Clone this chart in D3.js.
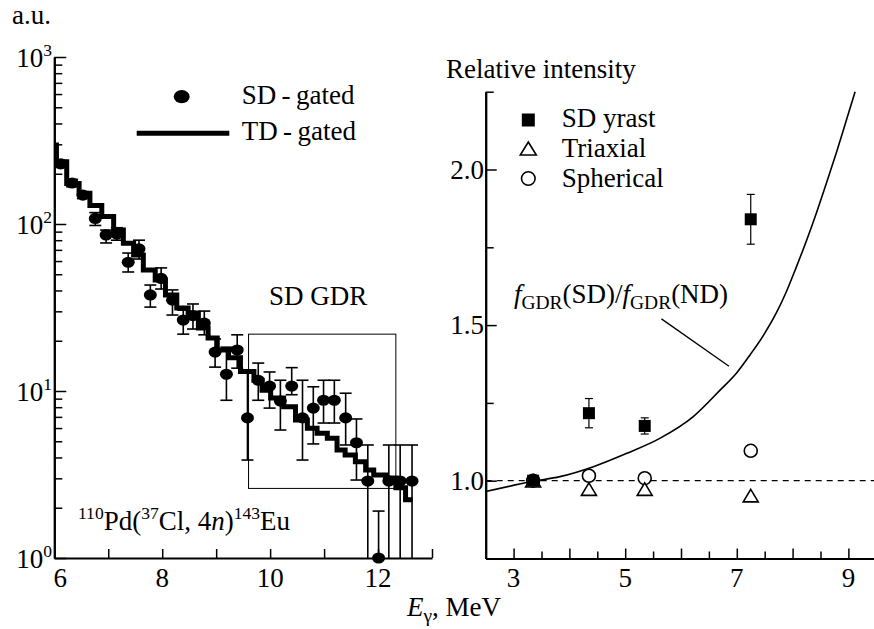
<!DOCTYPE html>
<html>
<head>
<meta charset="utf-8">
<script src="https://cdn.jsdelivr.net/npm/d3@7"></script>
<style>
body { margin: 0; background: #fff; }
svg { display: block; font-family: "Liberation Serif", "Times New Roman", serif; }
</style>
</head>
<body>
<svg id="chart" width="874" height="629"></svg>
<script>
// left panel: SD-gated spectrum (points with errors), TD-gated spectrum (histogram)
const sdEnergy = [6.12, 6.33, 6.53, 6.76, 6.96, 7.16, 7.37, 7.57, 7.78, 7.98, 8.19, 8.39, 8.57, 8.78, 8.98, 9.19, 9.39, 9.58, 9.78, 9.99, 10.19, 10.40, 10.60, 10.80, 10.99, 11.19, 11.40, 11.60, 11.81, 12.01, 12.20, 12.41, 12.63]
const sdCounts = [229, 176, 149, 108, 86, 87, 59, 71, 37.6, 47.2, 35, 26.6, 28.3, 25.5, 17.1, 12.6, 17.6, 6.9, 11.6, 10.7, 8.7, 10.7, 6.9, 7.9, 8.8, 8.8, 6.9, 4.9, 2.89, 1.0, 2.89, 2.89, 2.89]
const sdErrHi = [240, 185, 156, 117, 92, 95, 67, 80, 43.1, 54.6, 40.3, 30.5, 33.2, 30.1, 20.5, 18.3, 21.7, 13.4, 14.7, 13.0, 11.6, 13.8, 11.6, 10.6, 11.6, 11.6, 9.7, 6.8, 4.75, 1.91, 4.75, 4.75, 4.75]
const sdErrLo = [218, 167, 142, 98, 77, 80, 51.6, 61.7, 31.8, 40.8, 28.5, 21.9, 23.5, 21.7, 13.9, 8.8, 13.7, 3.86, 8.8, 7.9, 5.84, 9.5, 3.86, 4.82, 6.43, 6.43, 4.75, 2.93, 0.5, 0.5, 0.5, 0.5, 0.5]

const tdEdges = [6.00, 6.04, 6.23, 6.46, 6.66, 6.88, 7.10, 7.28, 7.47, 7.65, 7.87, 8.06, 8.27, 8.48, 8.67, 8.85, 9.02, 9.23, 9.45, 9.70, 9.85, 10.01, 10.25, 10.47, 10.69, 10.87, 11.06, 11.24, 11.39, 11.58, 11.77, 11.92, 12.14, 12.33, 12.51, 12.64]
const tdCounts = [297, 236, 175, 153, 129, 111, 92, 76.6, 65.2, 53, 46.2, 37.6, 31.4, 29.3, 23.8, 20.8, 17.6, 15.8, 13.1, 11.6, 10.1, 9.08, 8.05, 6.70, 5.98, 5.58, 5.21, 4.43, 4.14, 3.77, 3.37, 3.14, 3.01, 2.63, 2.23]

const gdrWindowE = [9.6, 12.33]
const gdrWindowCounts = [2.61, 21.9]

const leftYMajor = [1, 10, 100, 1000]
const leftYExp = ["0", "1", "2", "3"]
const leftXTicks = [6, 7, 8, 9, 10, 11, 12, 13]
const leftXLabels = [6, 8, 10, 12]

// right panel: relative intensity
const relEnergy = [3.35, 4.35, 5.35, 7.25]
const sdYrast = [1.0, 1.217, 1.176, 1.84]
const sdYrastErr = [0, 0.047, 0.026, 0.08]
const triaxial = [1.0, 0.973, 0.973, 0.952]
const spherical = [1.0, 1.016, 1.008, 1.096]

const ratioE = [2.5, 3.35, 3.83, 4.43, 5.03, 5.62, 6.22, 6.70, 7.0, 7.24, 7.48, 7.72, 7.89, 8.07, 8.25, 8.43, 8.61, 8.79, 8.97, 9.12]
const ratioVal = [0.965, 0.998, 1.013, 1.045, 1.088, 1.136, 1.206, 1.291, 1.347, 1.405, 1.468, 1.543, 1.608, 1.688, 1.772, 1.862, 1.958, 2.057, 2.162, 2.25]
const pointerE = [5.65, 6.86]
const pointerVal = [1.52, 1.368]

const rightYMajor = [1.0, 1.5, 2.0]
const rightYMinor = [1.25, 1.75, 2.25]
const rightXMajor = [3, 4, 5, 6, 7, 8, 9]
const rightXMinor = [3.5, 4.5, 5.5, 6.5, 7.5, 8.5]
const rightXLabels = [3, 5, 7, 9]

const ink = "#000"
const fs = 27
const svg = d3.select("#chart")

function richText(g, x, y, parts, size, anchor){
    let t = g.append("text").attr("x", x).attr("y", y).attr("font-size", size).attr("fill", ink)
    if (anchor) t.attr("text-anchor", anchor)
    let shift = 0
    parts.forEach((p) => {
        let target = p.sup ? -0.42 * size : p.sub ? 0.22 * size : 0
        let s = t.append("tspan").text(p.t)
        if (target - shift != 0) s.attr("dy", target - shift)
        if (p.sup) s.attr("font-size", size * 0.65)
        if (p.sub) s.attr("font-size", size * 0.72)
        if (p.it) s.attr("font-style", "italic")
        shift = target
    })
    return t
}

function styleAxis(g, w){
    g.select(".domain").attr("stroke", ink).attr("stroke-width", 2)
    g.selectAll(".tick line").attr("stroke", ink).attr("stroke-width", w || 1.5)
}

// ---------- left panel ----------
const xL = d3.scaleLinear().domain([6, 13]).range([54.3, 432])
const yL = d3.scaleLog().domain([1, 1000]).range([558, 57])
let left = svg.append("g")

// GDR window
left.append("rect")
    .attr("x", xL(gdrWindowE[0])).attr("y", yL(gdrWindowCounts[1]))
    .attr("width", xL(gdrWindowE[1]) - xL(gdrWindowE[0]))
    .attr("height", yL(gdrWindowCounts[0]) - yL(gdrWindowCounts[1]))
    .attr("fill", "none").attr("stroke", ink).attr("stroke-width", 1)

// TD-gated histogram
let histPts = tdCounts.map((c, i) => [tdEdges[i], c])
histPts.push([tdEdges[tdEdges.length - 1], tdCounts[tdCounts.length - 1]])
left.append("path").datum(histPts)
    .attr("fill", "none").attr("stroke", ink).attr("stroke-width", 5)
    .attr("d", d3.line().x(d => xL(d[0])).y(d => yL(d[1])).curve(d3.curveStepAfter))

// SD-gated points
let bottomL = yL(1)
let sd = sdEnergy.map((e, i) => ({e: e, v: sdCounts[i], hi: sdErrHi[i], lo: sdErrLo[i]}))
let eb = left.append("g").attr("stroke", ink).attr("stroke-width", 1.6)
sd.forEach((d) => {
    let cx = xL(d.e)
    let yHi = yL(d.hi)
    let yLo = Math.min(yL(d.lo), bottomL)
    eb.append("line").attr("x1", cx).attr("x2", cx).attr("y1", yHi).attr("y2", yLo)
    eb.append("line").attr("x1", cx - 6).attr("x2", cx + 6).attr("y1", yHi).attr("y2", yHi)
    if (d.lo >= 1) eb.append("line").attr("x1", cx - 6).attr("x2", cx + 6).attr("y1", yLo).attr("y2", yLo)
})
left.selectAll("ellipse.pt").data(sd).join("ellipse")
    .attr("class", "pt")
    .attr("cx", d => xL(d.e)).attr("cy", d => yL(d.v))
    .attr("rx", 6.5).attr("ry", 5.6).attr("fill", ink)

// axes
let ly = left.append("g").attr("transform", `translate(${xL(6)},0)`)
ly.call(d3.axisLeft(yL).tickValues(leftYMajor).tickSize(-12).tickSizeOuter(0).tickFormat(""))
styleAxis(ly)
let lyMinor = left.append("g").attr("transform", `translate(${xL(6)},0)`)
lyMinor.call(d3.axisLeft(yL).tickValues(yL.ticks().filter(v => !leftYMajor.includes(v))).tickSize(-8).tickSizeOuter(0).tickFormat(""))
styleAxis(lyMinor)
leftYMajor.forEach((v, i) => {
    richText(left, 52, yL(v) + 10, [{t: "10"}, {t: leftYExp[i], sup: true}], fs, "end")
})

let lx = left.append("g").attr("transform", `translate(0,${bottomL})`)
lx.call(d3.axisBottom(xL).tickValues(leftXTicks).tickSize(-9).tickSizeOuter(0).tickFormat(""))
styleAxis(lx)
leftXLabels.forEach((v) => {
    left.append("text").attr("x", xL(v) + (v == 6 ? 6 : 0)).attr("y", 587)
        .attr("text-anchor", "middle").attr("font-size", fs).attr("fill", ink).text(v)
})

// left texts and legend
left.append("text").attr("x", 12).attr("y", 24).attr("font-size", fs).text("a.u.")
left.append("ellipse").attr("cx", 181.7).attr("cy", 96.7).attr("rx", 8).attr("ry", 6.6).attr("fill", ink)
left.append("text").attr("x", 241.7).attr("y", 104).attr("font-size", fs).text("SD\u2009-\u2009gated")
left.append("line").attr("x1", 136.7).attr("x2", 229.3).attr("y1", 133.3).attr("y2", 133.3)
    .attr("stroke", ink).attr("stroke-width", 5)
left.append("text").attr("x", 241.7).attr("y", 140).attr("font-size", fs).text("TD\u2009-\u2009gated")
left.append("text").attr("x", 269).attr("y", 305).attr("font-size", fs).text("SD GDR")
richText(left, 78, 530, [
    {t: "110", sup: true}, {t: "Pd("}, {t: "37", sup: true}, {t: "Cl, 4"}, {t: "n", it: true},
    {t: ")"}, {t: "143", sup: true}, {t: "Eu"}], fs)

// ---------- right panel ----------
const xR = d3.scaleLinear().domain([2.5, 9.45]).range([485.7, 873.5])
const yR = d3.scaleLinear().domain([0.75, 2.25]).range([558.5, 91.7])
let right = svg.append("g")

right.append("line").attr("x1", xR(2.5)).attr("x2", 874).attr("y1", yR(1)).attr("y2", yR(1))
    .attr("stroke", ink).attr("stroke-width", 1.2).attr("stroke-dasharray", "6,5")

right.append("path").datum(ratioE.map((e, i) => [e, ratioVal[i]]))
    .attr("fill", "none").attr("stroke", ink).attr("stroke-width", 1.6)
    .attr("d", d3.line().x(d => xR(d[0])).y(d => yR(d[1])).curve(d3.curveMonotoneX))

right.append("line")
    .attr("x1", xR(pointerE[0])).attr("y1", yR(pointerVal[0]))
    .attr("x2", xR(pointerE[1])).attr("y2", yR(pointerVal[1]))
    .attr("stroke", ink).attr("stroke-width", 1.3)

let circleMark = (g, cx, cy, r) => g.append("circle").attr("cx", cx).attr("cy", cy).attr("r", r)
    .attr("fill", "#fff").attr("stroke", ink).attr("stroke-width", 1.6)
let triMark = (g, cx, cy, w, h) => g.append("path")
    .attr("d", `M${cx},${cy - h / 2}L${cx + w / 2},${cy + h / 2}L${cx - w / 2},${cy + h / 2}Z`)
    .attr("fill", "#fff").attr("stroke", ink).attr("stroke-width", 1.6).attr("stroke-linejoin", "miter")
let squareMark = (g, cx, cy, s) => g.append("rect").attr("x", cx - s / 2).attr("y", cy - s / 2)
    .attr("width", s).attr("height", s).attr("fill", ink)

relEnergy.forEach((e, i) => circleMark(right, xR(e), yR(spherical[i]), 6.5))
relEnergy.forEach((e, i) => triMark(right, xR(e), yR(triaxial[i]), 15, 12.5))
relEnergy.forEach((e, i) => {
    let cx = xR(e)
    if (sdYrastErr[i] > 0){
        let y1 = yR(sdYrast[i] + sdYrastErr[i])
        let y2 = yR(sdYrast[i] - sdYrastErr[i])
        right.append("line").attr("x1", cx).attr("x2", cx).attr("y1", y1).attr("y2", y2).attr("stroke", ink).attr("stroke-width", 1.2)
        right.append("line").attr("x1", cx - 4).attr("x2", cx + 4).attr("y1", y1).attr("y2", y1).attr("stroke", ink).attr("stroke-width", 1.2)
        right.append("line").attr("x1", cx - 4).attr("x2", cx + 4).attr("y1", y2).attr("y2", y2).attr("stroke", ink).attr("stroke-width", 1.2)
    }
    squareMark(right, cx, yR(sdYrast[i]), 12)
})

// axes
let ry = right.append("g").attr("transform", `translate(${xR(2.5)},0)`)
ry.call(d3.axisLeft(yR).tickValues(rightYMajor).tickSize(-11).tickSizeOuter(0).tickFormat(""))
styleAxis(ry)
let ryMinor = right.append("g").attr("transform", `translate(${xR(2.5)},0)`)
ryMinor.call(d3.axisLeft(yR).tickValues(rightYMinor).tickSize(-8).tickSizeOuter(0).tickFormat(""))
styleAxis(ryMinor)
rightYMajor.forEach((v) => {
    right.append("text").attr("x", 484).attr("y", yR(v) + 9).attr("text-anchor", "end")
        .attr("font-size", fs).text(d3.format(".1f")(v))
})

let rx = right.append("g").attr("transform", `translate(0,${yR(0.75)})`)
rx.call(d3.axisBottom(xR).tickValues(rightXMajor).tickSize(-10).tickSizeOuter(0).tickFormat(""))
styleAxis(rx)
let rxMinor = right.append("g").attr("transform", `translate(0,${yR(0.75)})`)
rxMinor.call(d3.axisBottom(xR).tickValues(rightXMinor).tickSize(-7).tickSizeOuter(0).tickFormat(""))
styleAxis(rxMinor)
rightXLabels.forEach((v) => {
    right.append("text").attr("x", xR(v)).attr("y", 587).attr("text-anchor", "middle")
        .attr("font-size", fs).text(v)
})

// right texts and legend
right.append("text").attr("x", 446).attr("y", 78).attr("font-size", fs).text("Relative intensity")
squareMark(right, 528.3, 120, 13)
right.append("text").attr("x", 561.7).attr("y", 127).attr("font-size", fs).text("SD yrast")
triMark(right, 528.3, 148.5, 16, 13)
right.append("text").attr("x", 561.7).attr("y", 157).attr("font-size", fs).text("Triaxial")
circleMark(right, 528.3, 178.5, 6.8)
right.append("text").attr("x", 561.7).attr("y", 187).attr("font-size", fs).text("Spherical")
richText(right, 514, 303, [
    {t: "f", it: true}, {t: "GDR", sub: true}, {t: "(SD)/"}, {t: "f", it: true},
    {t: "GDR", sub: true}, {t: "(ND)"}], fs)

// shared x label
richText(svg, 407, 616, [{t: "E", it: true}, {t: "\u03b3", sub: true}, {t: ", MeV"}], fs)
</script>
</body>
</html>
